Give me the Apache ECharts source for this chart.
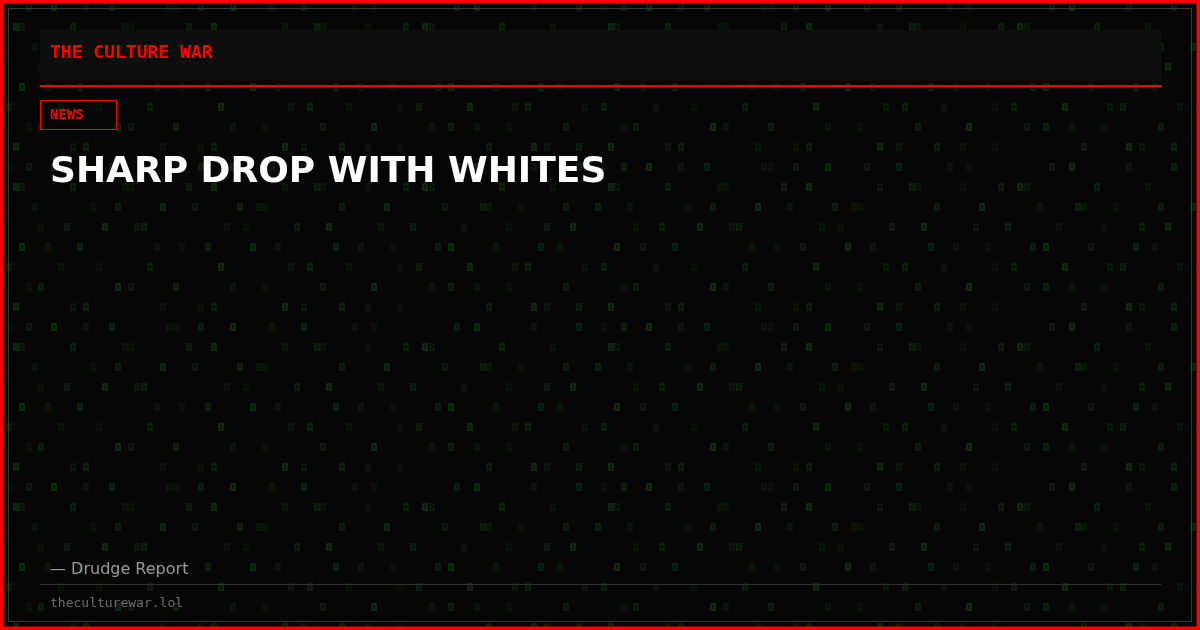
<!DOCTYPE html>
<html>
<head>
<meta charset="utf-8">
<style>
  html, body { margin: 0; padding: 0; background: #070707; }
  #chart { width: 1200px; height: 630px; }
</style>
<script src="https://cdn.jsdelivr.net/npm/echarts@6/dist/echarts.min.js"></script>
</head>
<body>
<div id="chart"></div>
<script>
// ---- content ----
const brandText = 'THE CULTURE WAR';
const tagText = 'NEWS';
const headlineText = 'SHARP DROP WITH WHITES';
const sourceText = '— Drudge Report';
const siteText = 'theculturewar.lol';

// ---- decorative background texture (hand-picked glyph columns per row of a tile) ----
const textureRow0 = [1, 4, 8, 13, 17, 26, 27, 31, 36, 42, 47, 55, 58, 71, 74, 83, 90];
const textureRow1 = [2, 3, 11, 19, 20, 29, 33, 44, 49, 50, 57, 63, 66, 67, 78, 86];
const textureRow2 = [0, 5, 14, 18, 25, 30, 37, 40, 41, 53, 60, 69, 75, 76, 81, 88];
const textureRow3 = [6, 10, 16, 21, 22, 35, 38, 46, 51, 59, 64, 72, 79, 85, 89];
const textureRow4 = [3, 7, 12, 24, 28, 32, 39, 43, 52, 56, 61, 68, 70, 77, 84, 87];
const textureRow5 = [1, 9, 15, 23, 34, 45, 48, 54, 62, 65, 73, 80, 82, 91];
const textureRow6 = [4, 6, 18, 20, 27, 36, 41, 50, 58, 67, 70, 74, 79, 88];
const textureRow7 = [2, 11, 13, 25, 31, 33, 44, 47, 53, 57, 62, 76, 83, 85, 90];

function makeTexture() {
  const pitch = 6.4, cols = 93, rowH = 20;
  const rows = [textureRow0, textureRow1, textureRow2, textureRow3,
                textureRow4, textureRow5, textureRow6, textureRow7];
  const c = document.createElement('canvas');
  c.width = Math.round(pitch * cols);
  c.height = rowH * rows.length;
  const ctx = c.getContext('2d');
  const levels = [0.25, 0.45, 0.7, 0.35, 0.55, 0.3];
  rows.forEach(function (row, r) {
    row.forEach(function (col, i) {
      const a = levels[(i + r * 2) % levels.length];
      const x = Math.round(col * pitch) + 0.5;
      const y = r * rowH + 3.5;
      ctx.fillStyle = 'rgba(8,35,8,' + a + ')';
      ctx.fillRect(x - 0.5, y - 0.5, 6, 8);
      ctx.strokeStyle = 'rgba(22,70,22,' + a + ')';
      ctx.lineWidth = 1;
      ctx.strokeRect(x + 0.5, y + 0.5, 4, 6);
    });
  });
  return c;
}

const chart = echarts.init(document.getElementById('chart'), null, { renderer: 'canvas' });
const texture = makeTexture();

const mono = '"DejaVu Sans Mono", monospace';
const sans = '"DejaVu Sans", sans-serif';

const option = {
  backgroundColor: '#060606',
  animation: false,
  graphic: [
    { type: 'rect', z: 0, silent: true, shape: { x: 0, y: 0, width: 1200, height: 630 },
      style: { fill: { image: texture, repeat: 'repeat' } } },
    // header band
    { type: 'rect', z: 1, shape: { x: 40, y: 30, width: 1121, height: 51 },
      style: { fill: '#0e0e0e' } },
    { type: 'text', z: 2, x: 50, y: 53,
      style: { text: brandText, fill: '#ff0000', font: 'bold 18px ' + mono, textVerticalAlign: 'middle' } },
    // red rule
    { type: 'rect', z: 2, shape: { x: 40, y: 85, width: 1121, height: 2 },
      style: { fill: '#ff0000' } },
    // tag box
    { type: 'rect', z: 2, shape: { x: 40.5, y: 100.5, width: 76, height: 29 },
      style: { fill: 'rgba(0,0,0,0)', stroke: '#ff0000', lineWidth: 1 } },
    { type: 'text', z: 3, x: 50, y: 115,
      style: { text: tagText, fill: '#ff0000', font: 'bold 14px ' + mono, textVerticalAlign: 'middle' } },
    // headline
    { type: 'text', z: 3, x: 50, y: 173,
      style: { text: headlineText, fill: '#ffffff', font: 'bold 36px ' + sans, textVerticalAlign: 'middle' } },
    // source
    { type: 'text', z: 3, x: 50, y: 570,
      style: { text: sourceText, fill: '#9a9a9a', font: '16px ' + sans, textVerticalAlign: 'middle' } },
    // footer rule
    { type: 'rect', z: 2, shape: { x: 40, y: 584, width: 1121, height: 1 },
      style: { fill: '#333333' } },
    { type: 'text', z: 3, x: 50, y: 604,
      style: { text: siteText, fill: '#6e6e6e', font: '13px ' + mono, textVerticalAlign: 'middle' } },
    // inner grey frame
    { type: 'rect', z: 4, shape: { x: 8.5, y: 8.5, width: 1183, height: 613 },
      style: { fill: 'rgba(0,0,0,0)', stroke: '#3a3a3a', lineWidth: 1 } },
    // outer red frame
    { type: 'rect', z: 5, shape: { x: 1.75, y: 1.75, width: 1196.5, height: 626.5 },
      style: { fill: 'rgba(0,0,0,0)', stroke: '#ff0000', lineWidth: 3.5 } }
  ]
};
chart.setOption(option);
</script>
</body>
</html>
